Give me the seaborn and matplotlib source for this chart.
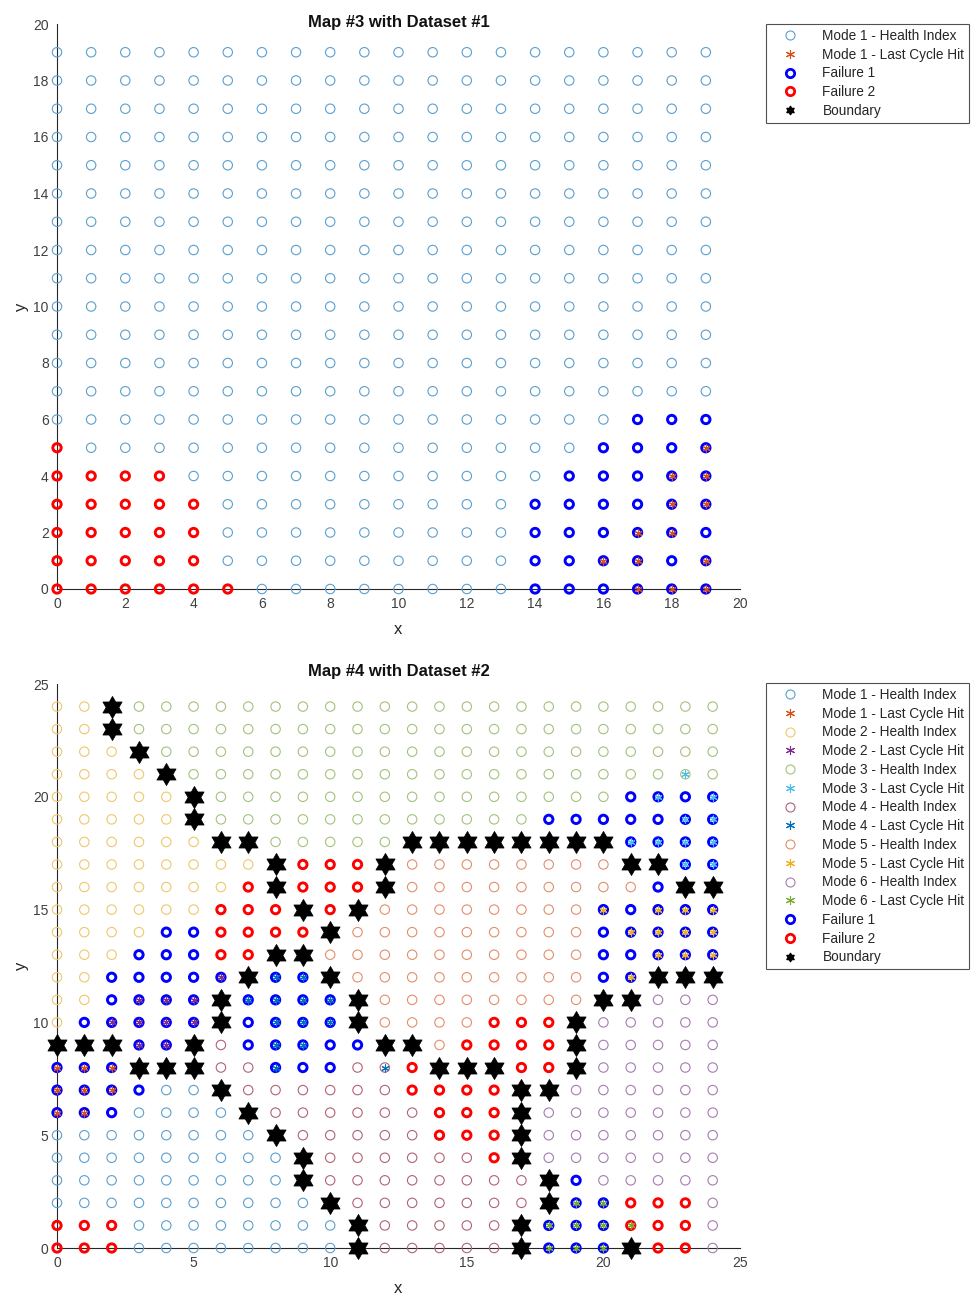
import matplotlib
matplotlib.use('Agg')
import numpy as np
import pandas as pd
import matplotlib.pyplot as plt
import seaborn as sns
from matplotlib.path import Path
from matplotlib.lines import Line2D

sns.set_style('white')
plt.rcParams['font.family'] = ['Liberation Sans', 'DejaVu Sans']

# ---- data: map codes per row, top row first ('1'-'6' health index mode,
# 'b' failure 1, 'r' failure 2, '*' boundary)
map3_rows = (
    ['11111111111111111111'] * 13 + [
    '11111111111111111bbb',
    'r111111111111111bbbb',
    'rrrr11111111111bbbbb',
    'rrrrr111111111bbbbbb',
    'rrrrr111111111bbbbbb',
    'rrrrr111111111bbbbbb',
    'rrrrrr11111111bbbbbb',
])
# last cycle hits (x, y, mode)
map3_lch = [(19, 5, 1), (18, 4, 1), (19, 4, 1), (18, 3, 1), (19, 3, 1),
            (17, 2, 1), (18, 2, 1), (16, 1, 1), (17, 1, 1), (19, 1, 1),
            (17, 0, 1), (18, 0, 1), (19, 0, 1)]

map4_rows = [
    '22*3333333333333333333333',
    '22*3333333333333333333333',
    '222*333333333333333333333',
    '2222*33333333333333333333',
    '22222*333333333333333bbbb',
    '22222*333333333333bbbbbbb',
    '222222**33333********bbbb',
    '22222222*rrr*55555555**bb',
    '2222222r*rrr*555555555b**',
    '222222rrr*r*55555555bbbbb',
    '2222bbrrrr*555555555bbbbb',
    '222bbbrr**5555555555bbbbb',
    '22bbbbb*bb*555555555bb***',
    '22bbbb*bbbb*55555555**666',
    '2bbbbb*bbbb*5555rrr*66666',
    '***bb*4bbbbb**5rrrr*66666',
    'bbb***44bbb44r***rr*66666',
    'bbbb11*444444rrrr**666666',
    'bbb1111*444444rrr*6666666',
    '11111111*44444rrr*6666666',
    '111111111*444444r*6666666',
    '111111111*44444444*b66666',
    '1111111111*4444444*bbrrr6',
    'rrr11111111*44444*bbbrrr6',
    'rrr11111111*44444*bbb*rr6',
]
map4_lch = [
    (23, 21, 3), (22, 20, 3), (24, 20, 3), (23, 19, 3), (24, 19, 3),
    (21, 18, 3), (22, 18, 3), (23, 18, 3), (24, 18, 3), (23, 17, 3), (24, 17, 3),
    (20, 15, 5), (22, 15, 5), (23, 15, 5), (24, 15, 5), (21, 14, 5), (22, 14, 5),
    (23, 14, 5), (24, 14, 5), (22, 13, 5), (23, 13, 5), (24, 13, 5), (21, 12, 5),
    (6, 12, 2), (3, 11, 2), (4, 11, 2), (5, 11, 2), (2, 10, 2), (3, 10, 2),
    (4, 10, 2), (5, 10, 2), (3, 9, 2), (4, 9, 2),
    (8, 12, 4), (9, 12, 4), (7, 11, 4), (8, 11, 4), (9, 11, 4), (10, 11, 4),
    (8, 10, 4), (9, 10, 4), (10, 10, 4), (8, 9, 4), (9, 9, 4), (8, 8, 4), (12, 8, 4),
    (0, 8, 1), (1, 8, 1), (2, 8, 1), (0, 7, 1), (1, 7, 1), (2, 7, 1), (0, 6, 1), (1, 6, 1),
    (19, 2, 6), (20, 2, 6), (18, 1, 6), (19, 1, 6), (20, 1, 6), (21, 1, 6),
    (18, 0, 6), (19, 0, 6), (20, 0, 6),
]

hi_colors = {'1': '#5a9fcf', '2': '#efc76c', '3': '#a3c27a', '4': '#b06275',
             '5': '#e38e69', '6': '#a67bb2'}
lch_colors = {1: '#D95319', 2: '#7E2F8E', 3: '#4DBEEE', 4: '#0072BD',
              5: '#EDB120', 6: '#77AC30'}

# hexagram marker (MATLAB style boundary)
ang = np.pi / 2 + np.arange(12) * np.pi / 6
rad = np.where(np.arange(12) % 2 == 0, 1.0, 1 / np.sqrt(3))
verts = np.column_stack([rad * np.cos(ang), rad * np.sin(ang)])
hexagram = Path(np.vstack([verts, verts[:1]]), closed=True)
asterisk = (6, 2, 0)


def parse_map(rows):
    recs = []
    n = len(rows)
    for i, row in enumerate(rows):
        for xv, c in enumerate(row):
            recs.append((xv, n - 1 - i, c))
    return pd.DataFrame(recs, columns=['x', 'y', 'code'])


def draw_map(ax, rows, lch):
    df = parse_map(rows)
    for m in '123456':
        d = df[df.code == m]
        if len(d):
            sns.scatterplot(data=d, x='x', y='y', ax=ax, marker='o', s=46,
                            color=hi_colors[m], facecolor='none', edgecolor=hi_colors[m],
                            linewidth=0.8, clip_on=False, legend=False, zorder=3)
    for code, col in [('b', '#0000FF'), ('r', '#FF0000')]:
        d = df[df.code == code]
        sns.scatterplot(data=d, x='x', y='y', ax=ax, marker='o', s=36,
                        color=col, facecolor='none', edgecolor=col,
                        linewidth=2.1, clip_on=False, legend=False, zorder=4)
    ld = pd.DataFrame(lch, columns=['x', 'y', 'mode'])
    for m, d in ld.groupby('mode'):
        sns.scatterplot(data=d, x='x', y='y', ax=ax, marker=asterisk, s=26,
                        color=lch_colors[m], linewidth=0.8, clip_on=False,
                        legend=False, zorder=5)
    d = df[df.code == '*']
    if len(d):
        sns.scatterplot(data=d, x='x', y='y', ax=ax, marker=hexagram, s=250,
                        color='black', edgecolor='black', linewidth=0.6,
                        clip_on=False, legend=False, zorder=6)


def style_axes(ax, lim, step, title, tpad):
    ax.set_xlim(0, lim)
    ax.set_ylim(0, lim)
    ax.set_xticks(np.arange(0, lim + 1, step))
    ax.set_yticks(np.arange(0, lim + 1, step))
    for s in ['top', 'right']:
        ax.spines[s].set_visible(False)
    for s in ['left', 'bottom']:
        ax.spines[s].set_color('#262626')
        ax.spines[s].set_linewidth(0.8)
    ax.tick_params(direction='in', length=4, width=0.8, labelsize=10,
                   colors='#404040', pad=6)
    ax.set_xlabel('x', fontsize=12, color='#262626', labelpad=8)
    ax.set_ylabel('y', fontsize=12, color='#262626', labelpad=3)
    ax.set_title(title, fontsize=12, fontweight='bold', color='#111111', pad=tpad)


def legend_handles(modes):
    h = []
    for m in modes:
        h.append((Line2D([], [], ls='', marker='o', ms=6.5, mfc='none',
                         mec=hi_colors[str(m)], mew=0.8), f'Mode {m} - Health Index'))
        h.append((Line2D([], [], ls='', marker=asterisk, ms=6.5,
                         color=lch_colors[m], mew=0.8), f'Mode {m} - Last Cycle Hit'))
    h.append((Line2D([], [], ls='', marker='o', ms=6, mfc='none', mec='#0000FF', mew=2), 'Failure 1'))
    h.append((Line2D([], [], ls='', marker='o', ms=6, mfc='none', mec='#FF0000', mew=2), 'Failure 2'))
    h.append((Line2D([], [], ls='', marker=hexagram, ms=6, color='black'), 'Boundary'))
    return h


fig = plt.figure(figsize=(9.76, 12.98), dpi=100)
ax1 = fig.add_axes([57 / 976, (1298 - 589) / 1298, 683 / 976, 565 / 1298])
ax2 = fig.add_axes([57 / 976, (1298 - 1248) / 1298, 683 / 976, 564 / 1298])

draw_map(ax1, map3_rows, map3_lch)
style_axes(ax1, 20, 2, 'Map #3 with Dataset #1', -2)
draw_map(ax2, map4_rows, map4_lch)
style_axes(ax2, 25, 5, 'Map #4 with Dataset #2', 6)

for ax, modes, top in [(ax1, [1], 24), (ax2, [1, 2, 3, 4, 5, 6], 683)]:
    hl = legend_handles(modes)
    leg = fig.legend([a for a, b in hl], [b for a, b in hl], loc='upper left',
                     bbox_to_anchor=(766 / 976, 1 - top / 1298), fontsize=9.8,
                     frameon=True, fancybox=False, borderpad=0.35, labelspacing=0.35,
                     handlelength=2.8, handletextpad=1.0, borderaxespad=0)
    leg.get_frame().set_edgecolor('#262626')
    leg.get_frame().set_linewidth(0.8)

fig.savefig('out.png', dpi=100)
